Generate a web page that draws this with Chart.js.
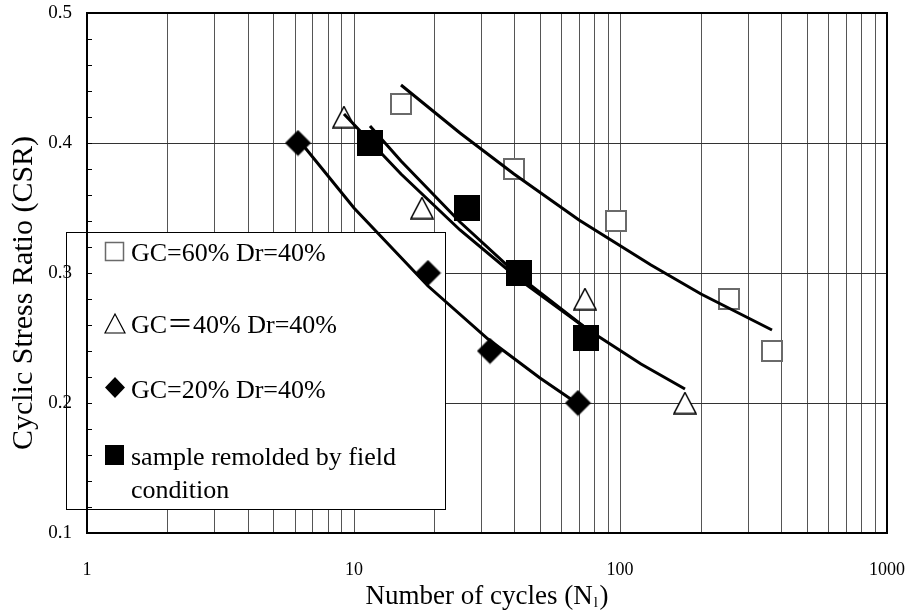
<!DOCTYPE html>
<html>
<head>
<meta charset="utf-8">
<script src="https://cdn.jsdelivr.net/npm/chart.js@4.4.1/dist/chart.umd.min.js"></script>
<style>
  html, body { margin: 0; padding: 0; background: #fff; }
  #wrap { width: 907px; height: 612px; }
</style>
</head>
<body>
<div id="wrap"><canvas id="chart-id" width="907" height="612"></canvas></div>
<script>
// measured tests: cycles to liquefaction vs cyclic stress ratio
const gc60Cycles = [15, 40, 96, 255, 370];
const gc60Csr = [0.43, 0.38, 0.34, 0.28, 0.24];
const gc40Cycles = [9.2, 18.1, 74, 175];
const gc40Csr = [0.42, 0.35, 0.28, 0.20];
const gc20Cycles = [6.2, 19, 32.4, 69.3];
const gc20Csr = [0.40, 0.30, 0.24, 0.20];
const fieldCycles = [11.5, 26.7, 41.6, 74.3];
const fieldCsr = [0.40, 0.35, 0.30, 0.25];

// trend curves through each group
const fit60Cycles = [15, 25, 40, 70, 130, 200, 370];
const fit60Csr = [0.445, 0.408, 0.376, 0.341, 0.306, 0.284, 0.256];
const fit40Cycles = [9.2, 15, 25, 42, 75, 120, 175];
const fit40Csr = [0.422, 0.376, 0.333, 0.295, 0.257, 0.230, 0.211];
const fit20Cycles = [6.2, 10, 19, 32, 50, 69.3];
const fit20Csr = [0.403, 0.350, 0.290, 0.249, 0.219, 0.199];
const fitFieldCycles = [11.5, 15, 25, 42, 75];
const fitFieldCsr = [0.413, 0.386, 0.339, 0.297, 0.257];

// axes
const xGridValues = [1, 2, 3, 4, 5, 6, 7, 8, 9,
  10, 20, 30, 40, 50, 60, 70, 80, 90,
  100, 200, 300, 400, 500, 600, 700, 800, 900, 1000];
const xTickLabels = ['1', '10', '100', '1000'];
const yTickLabels = ['0.1', '0.2', '0.3', '0.4', '0.5'];

const legendLabels = ['GC=60% Dr=40%', 'GC\uFF1D40% Dr=40%', 'GC=20% Dr=40%', 'sample remolded by field', 'condition'];
const xTitle = 'Number of cycles (N';
const xTitleSub = 'l';
const yTitle = 'Cyclic Stress Ratio (CSR)';

const SERIF = "'Liberation Serif', 'Times New Roman', 'Noto Sans CJK TC', serif";

function pts(xs, ys) {
  return xs.map((x, i) => ({ x: x, y: ys[i] }));
}

function marker(w, h, paint) {
  const c = document.createElement('canvas');
  c.width = w; c.height = h;
  paint(c.getContext('2d'));
  return c;
}

const openSquare = marker(24, 24, (g) => {
  g.fillStyle = '#fff';
  g.fillRect(1, 1, 22, 22);
  g.strokeStyle = '#6a6a6a';
  g.lineWidth = 2;
  g.strokeRect(2, 2, 20, 20);
});
const openTriangle = marker(24, 23, (g) => {
  g.beginPath();
  g.moveTo(12, 1); g.lineTo(23, 22); g.lineTo(1, 22); g.closePath();
  g.fillStyle = '#fff'; g.fill();
  g.strokeStyle = '#000'; g.lineWidth = 1.5; g.stroke();
});
const diamond = marker(27, 27, (g) => {
  g.beginPath();
  g.moveTo(13.5, 0.5); g.lineTo(26.5, 13.5); g.lineTo(13.5, 26.5); g.lineTo(0.5, 13.5); g.closePath();
  g.fillStyle = '#000'; g.fill();
});
const solidSquare = marker(26, 26, (g) => {
  g.fillStyle = '#000';
  g.fillRect(0, 0, 26, 26);
});

function fitLine(xs, ys) {
  return {
    data: pts(xs, ys),
    showLine: true,
    borderColor: '#000',
    borderWidth: 3,
    pointRadius: 0,
    tension: 0
  };
}
function markerSet(xs, ys, style) {
  return {
    data: pts(xs, ys),
    showLine: false,
    pointStyle: style,
    pointRadius: 12
  };
}

// white legend panel, sits above the grid but under the data
const legendBox = {
  id: 'legendBox',
  beforeDatasetsDraw(chart) {
    const ctx = chart.ctx;
    const a = chart.chartArea;
    ctx.save();
    ctx.fillStyle = '#fff';
    ctx.fillRect(a.left, 232, 445 - a.left, 277);
    ctx.strokeStyle = '#000';
    ctx.lineWidth = 1;
    ctx.strokeRect(66.5, 232.5, 379, 277);

    // symbols
    ctx.strokeStyle = '#6a6a6a';
    ctx.lineWidth = 1.5;
    ctx.strokeRect(105.5, 242.5, 18, 18);

    ctx.beginPath();
    ctx.moveTo(115, 314); ctx.lineTo(125, 333); ctx.lineTo(105, 333); ctx.closePath();
    ctx.strokeStyle = '#000'; ctx.lineWidth = 1.2; ctx.stroke();

    ctx.beginPath();
    ctx.moveTo(115, 377); ctx.lineTo(125, 387.5); ctx.lineTo(115, 398); ctx.lineTo(105, 387.5); ctx.closePath();
    ctx.fillStyle = '#000'; ctx.fill();

    ctx.fillRect(105, 445, 19, 20);

    ctx.font = '26px ' + SERIF;
    ctx.textAlign = 'left';
    ctx.textBaseline = 'alphabetic';
    ctx.fillText(legendLabels[0], 131, 261);
    ctx.fillText(legendLabels[1], 131, 333);
    ctx.fillText(legendLabels[2], 131, 398);
    ctx.fillText(legendLabels[3], 131, 465);
    ctx.fillText(legendLabels[4], 131, 498);
    ctx.restore();
  }
};

// plot frame, inward minor ticks and axis titles
const frame = {
  id: 'frame',
  afterDatasetsDraw(chart) {
    const ctx = chart.ctx;
    const a = chart.chartArea;
    const ys = chart.scales.y;
    ctx.save();
    ctx.strokeStyle = '#000';
    ctx.lineWidth = 1;
    ctx.beginPath();
    ys.ticks.forEach((t) => {
      const py = Math.round(ys.getPixelForValue(t.value)) + 0.5;
      ctx.moveTo(a.left, py);
      ctx.lineTo(a.left + 5, py);
    });
    ctx.stroke();
    ctx.lineWidth = 2;
    ctx.strokeRect(a.left, a.top, a.right - a.left, a.bottom - a.top);
    ctx.restore();
  },
  afterDraw(chart) {
    const ctx = chart.ctx;
    ctx.save();
    ctx.fillStyle = '#000';
    ctx.textBaseline = 'alphabetic';
    ctx.textAlign = 'left';
    const big = '27px ' + SERIF;
    const small = '15px ' + SERIF;
    ctx.font = big;
    const w1 = ctx.measureText(xTitle).width;
    const w3 = ctx.measureText(' )').width;
    ctx.font = small;
    const w2 = ctx.measureText(xTitleSub).width;
    let x = 490 - (w1 + w2 + w3 + 2) / 2;
    ctx.font = big;
    ctx.fillText(xTitle, x, 604);
    x += w1 + 1;
    ctx.font = small;
    ctx.fillText(xTitleSub, x, 607);
    x += w2 + 1;
    ctx.font = big;
    ctx.fillText(' )', x - 6, 604);

    ctx.translate(24, 293);
    ctx.rotate(-Math.PI / 2);
    ctx.textAlign = 'center';
    ctx.textBaseline = 'middle';
    ctx.font = '30px ' + SERIF;
    ctx.fillText(yTitle, 0, 0);
    ctx.restore();
  }
};

const config = {
  type: 'scatter',
  data: {
    datasets: [
      fitLine(fit60Cycles, fit60Csr),
      fitLine(fit40Cycles, fit40Csr),
      fitLine(fit20Cycles, fit20Csr),
      fitLine(fitFieldCycles, fitFieldCsr),
      markerSet(gc60Cycles, gc60Csr, openSquare),
      markerSet(gc40Cycles, gc40Csr, openTriangle),
      markerSet(gc20Cycles, gc20Csr, diamond),
      markerSet(fieldCycles, fieldCsr, solidSquare)
    ]
  },
  options: {
    responsive: false,
    animation: false,
    devicePixelRatio: 1,
    layout: { padding: { top: 13, right: 20, left: 0, bottom: 0 } },
    plugins: {
      legend: { display: false },
      tooltip: { enabled: false },
      title: { display: false }
    },
    scales: {
      x: {
        type: 'logarithmic',
        min: 1,
        max: 1000,
        alignToPixels: true,
        afterFit(s) {
          s.height = 79;
          s.paddingLeft = 0;
          s.paddingRight = 0;
        },
        afterBuildTicks(s) { s.ticks = xGridValues.map((v) => ({ value: v })); },
        border: { display: false },
        grid: { color: '#555', lineWidth: 1, drawTicks: false },
        ticks: {
          autoSkip: false,
          maxRotation: 0,
          padding: 26,
          color: '#000',
          font: { family: SERIF, size: 18 },
          callback(value) {
            const s = String(value);
            return xTickLabels.includes(s) ? s : '';
          }
        }
      },
      y: {
        min: 0.1,
        max: 0.5,
        alignToPixels: true,
        afterFit(s) {
          s.width = 87;
          s.paddingTop = 0;
          s.paddingBottom = 0;
        },
        border: { display: false },
        grid: {
          drawTicks: false,
          lineWidth: 1,
          color(c) {
            const v = c.tick.value * 10;
            return Math.abs(v - Math.round(v)) < 1e-6 ? '#333' : 'rgba(0,0,0,0)';
          }
        },
        ticks: {
          stepSize: 0.02,
          autoSkip: false,
          padding: 15,
          color: '#000',
          font: { family: SERIF, size: 19 },
          callback(value) {
            const s = value.toFixed(1);
            const v = value * 10;
            return Math.abs(v - Math.round(v)) < 1e-6 && yTickLabels.includes(s) ? s : '';
          }
        }
      }
    }
  },
  plugins: [legendBox, frame]
};

const myChart = new Chart(document.getElementById('chart-id'), config);
</script>
</body>
</html>
